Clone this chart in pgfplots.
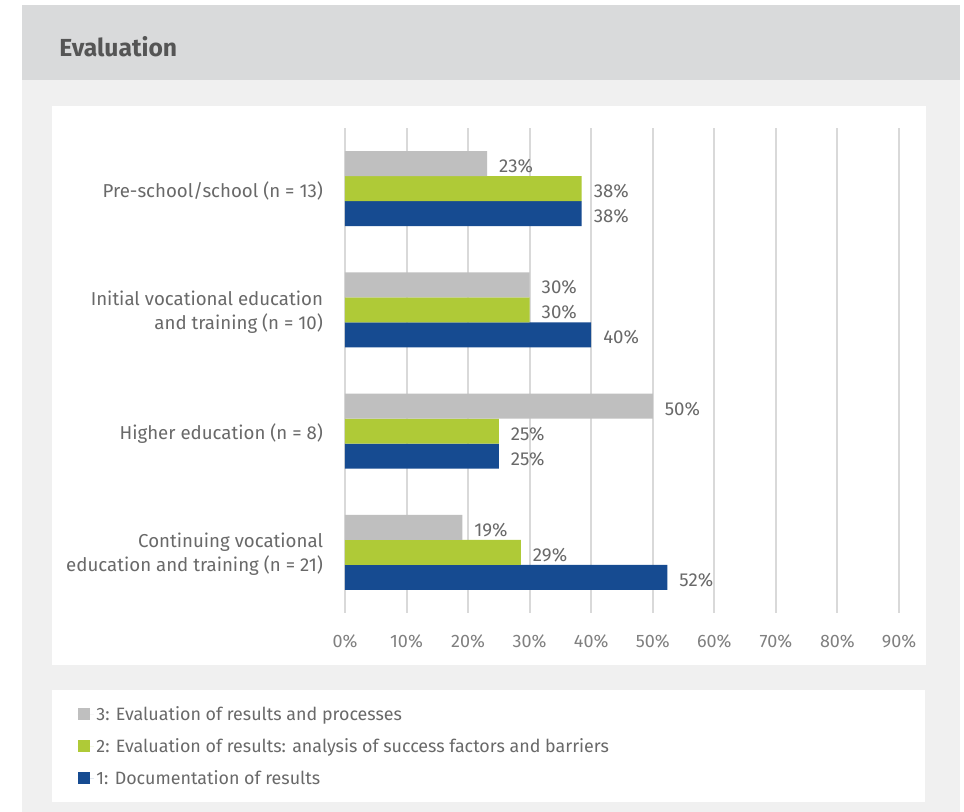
\documentclass[border=0pt]{standalone}
\usepackage{pgfplots}
\pgfplotsset{compat=1.18}
\usepackage{fontspec}
\setmainfont{Fira Sans}
\definecolor{cgray}{RGB}{191,191,191}
\definecolor{cgreen}{RGB}{175,202,55}
\definecolor{cblue}{RGB}{22,75,145}
\definecolor{bgpanel}{RGB}{240,240,240}
\definecolor{bghead}{RGB}{217,218,219}
\definecolor{gridc}{RGB}{217,217,217}
\definecolor{txt}{RGB}{105,105,105}
\definecolor{ticktxt}{RGB}{128,128,128}
\definecolor{titlec}{RGB}{85,85,85}
\begin{document}
\begin{tikzpicture}
\fill[white] (0pt,0pt) rectangle (723pt,609pt);
\fill[bgpanel] (16.5pt,0pt) rectangle (720pt,605.25pt);
\fill[bghead] (16.5pt,549pt) rectangle (720pt,605.25pt);
\fill[white] (39pt,110.25pt) rectangle (694.5pt,529.5pt);
\fill[white] (39pt,7.5pt) rectangle (693.75pt,91.5pt);
\node[anchor=west, inner sep=0pt, text=titlec, font=\fontsize{18.5}{22}\selectfont\bfseries] at (44.25pt,573.75pt) {Evaluation};
\begin{axis}[
  at={(258.75pt,149.25pt)}, anchor=south west,
  scale only axis, width=415.5pt, height=363.75pt,
  xmin=0, xmax=90, ymin=-0.5, ymax=3.5,
  enlargelimits=false,
  xbar=0pt, bar width=18.75pt,
  xtick={0,10,...,90},
  xticklabel={\pgfmathprintnumber{\tick}\%},
  ytick={0,1,2,3},
  yticklabels={{Continuing vocational\\education and training (n = 21)},{Higher education (n = 8)},{Initial vocational education\\and training (n = 10)},{Pre-school/school (n = 13)}},
  yticklabel style={align=right, font=\fontsize{14}{18}\selectfont, text=txt, yshift=-1.5pt},
  xticklabel style={font=\fontsize{13.5}{15}\selectfont, text=ticktxt},
  xticklabel shift=12.5pt,
  yticklabel shift=13pt,
  /pgf/number format/assume math mode=true,
  axis line style={draw=none},
  major tick length=0pt,
  xmajorgrids,
  grid style={gridc, line width=1.5pt},
  point meta=x,
  nodes near coords={\pgfmathprintnumber[fixed,precision=0]{\pgfplotspointmeta}\%},
  nodes near coords align={horizontal},
  every node near coord/.append style={anchor=west, xshift=5.5pt, yshift=-2pt, font=\fontsize{14}{15}\selectfont, text=txt},
  legend image code/.code={\fill[#1,draw=none] (0pt,-4.5pt) rectangle (9pt,4.5pt); \path (0pt,0pt) -- (12pt,0pt);},
  reverse legend,
  legend style={at={(axis description cs:-0.49,-0.181)}, anchor=north west, draw=none, fill=none,
    font=\fontsize{13.4}{15}\selectfont, text=txt, row sep=8pt},
  legend cell align=left,
]
\addplot[fill=cblue, draw=none]
  coordinates {(52.38,0) (25,1) (40,2) (38.46,3)};
\addplot[fill=cgreen, draw=none]
  coordinates {(28.57,0) (25,1) (30,2) (38.46,3)};
\addplot[fill=cgray, draw=none]
  coordinates {(19.05,0) (50,1) (30,2) (23.08,3)};
\legend{1: Documentation of results, 2: Evaluation of results: analysis of success factors and barriers, 3: Evaluation of results and processes}
\end{axis}
\end{tikzpicture}
\end{document}
